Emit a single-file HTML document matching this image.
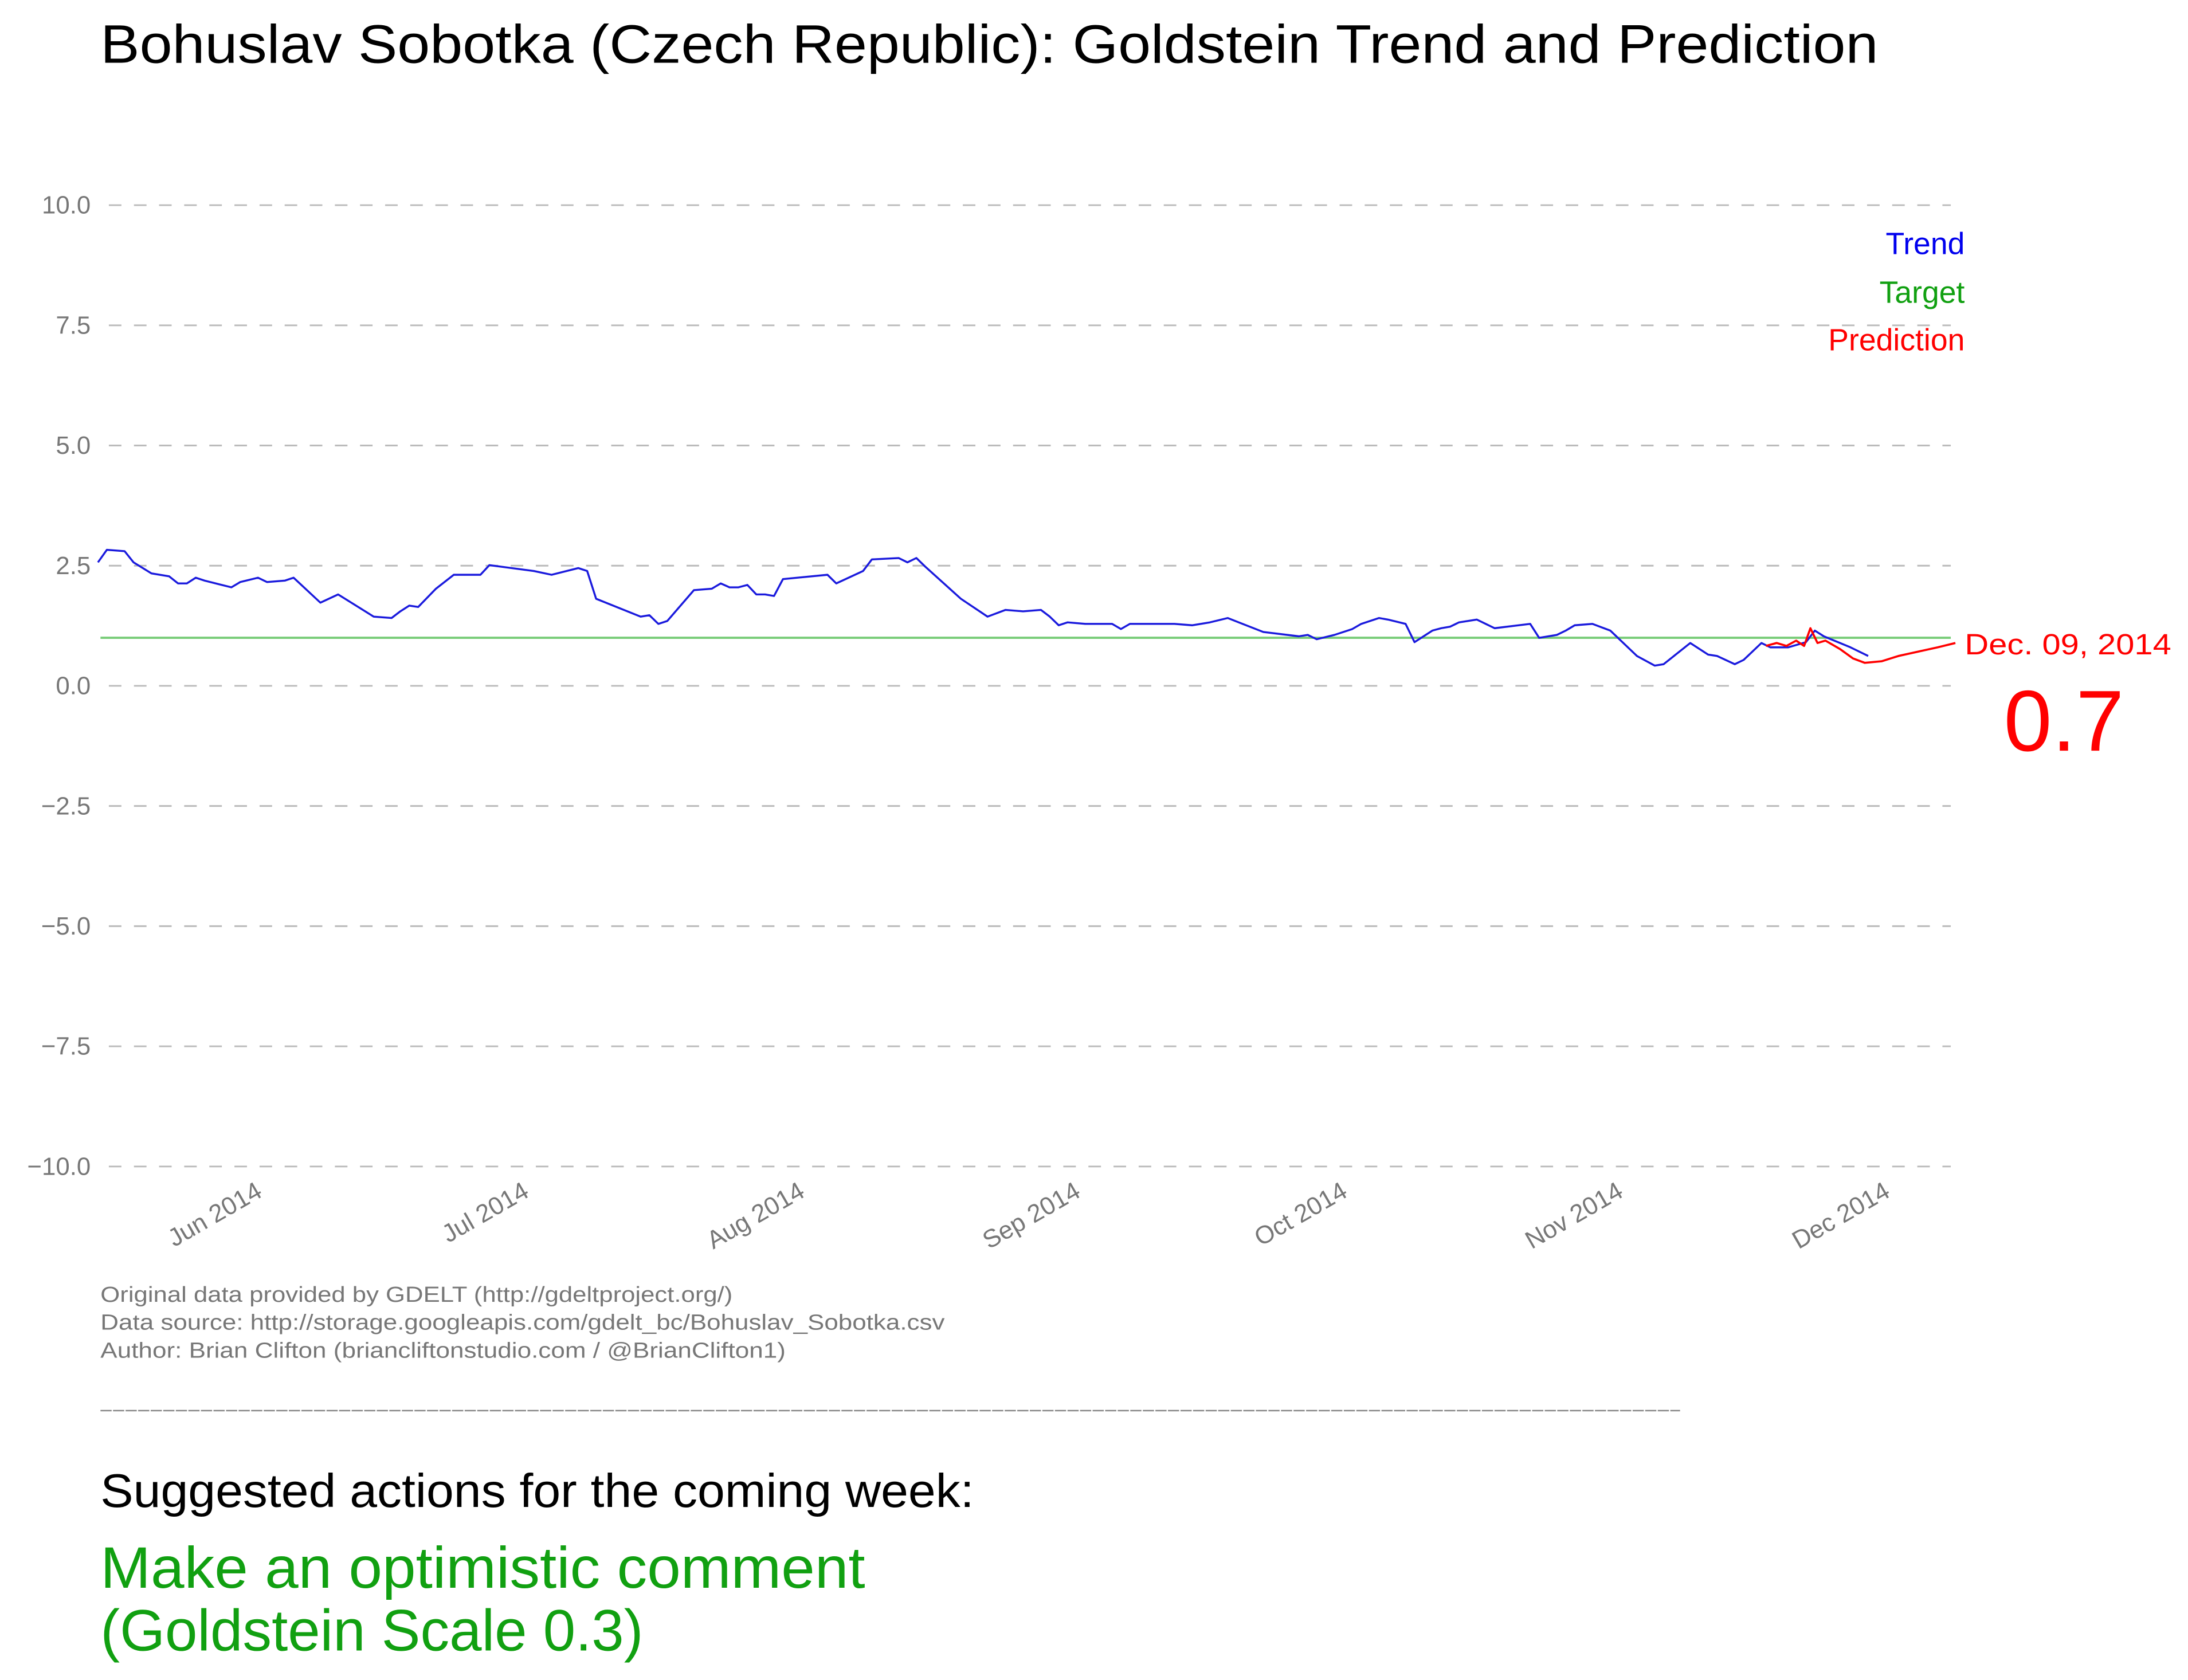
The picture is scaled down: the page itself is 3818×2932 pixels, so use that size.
<!DOCTYPE html>
<html><head><meta charset="utf-8"><style>
html,body{margin:0;padding:0;background:#fff}
svg{display:block}
text{font-family:"Liberation Sans",sans-serif}
</style></head><body>
<svg id="chart" width="3818" height="2932" viewBox="0 0 1568 1204" xmlns="http://www.w3.org/2000/svg">
<text x="72" y="45" font-size="39" fill="#000" textLength="1274" lengthAdjust="spacingAndGlyphs">Bohuslav Sobotka (Czech Republic): Goldstein Trend and Prediction</text>
<g id="grid"></g>
<g id="yticks"></g>
<g id="xticks"></g>
<g id="series"></g>
<text x="1408" y="182" font-size="22" fill="#0000ee" text-anchor="end">Trend</text>
<text x="1408" y="217" font-size="22" fill="#11a011" text-anchor="end">Target</text>
<text x="1408" y="251" font-size="22" fill="#ff0000" text-anchor="end">Prediction</text>
<text x="1408" y="469" font-size="21" fill="#ff0000" textLength="148" lengthAdjust="spacingAndGlyphs">Dec. 09, 2014</text>
<text x="1436" y="538" font-size="62" fill="#ff0000">0.7</text>
<g font-size="15.5" fill="#777">
<text x="72" y="933" textLength="453" lengthAdjust="spacingAndGlyphs">Original data provided by GDELT (http://gdeltproject.org/)</text>
<text x="72" y="953" textLength="605" lengthAdjust="spacingAndGlyphs">Data source: http://storage.googleapis.com/gdelt_bc/Bohuslav_Sobotka.csv</text>
<text x="72" y="973" textLength="491" lengthAdjust="spacingAndGlyphs">Author: Brian Clifton (briancliftonstudio.com / @BrianClifton1)</text>
</g>
<line x1="72" y1="1011" x2="1204" y2="1011" stroke="#888" stroke-width="1" stroke-dasharray="8,1"/>
<text x="72" y="1080" font-size="34" fill="#000" textLength="626" lengthAdjust="spacingAndGlyphs">Suggested actions for the coming week:</text>
<text x="72" y="1138" font-size="42" fill="#11a011" textLength="548" lengthAdjust="spacingAndGlyphs">Make an optimistic comment</text>
<text x="72" y="1183" font-size="42" fill="#11a011" textLength="389" lengthAdjust="spacingAndGlyphs">(Goldstein Scale 0.3)</text>
</svg>
<script>
const yTicks=[10,7.5,5,2.5,0,-2.5,-5,-7.5,-10];
const yTickLabels=["10.0","7.5","5.0","2.5","0.0","\u22122.5","\u22125.0","\u22127.5","\u221210.0"];
const monthDays=[18,48,79,110,140,171,201];
const monthLabels=["Jun 2014","Jul 2014","Aug 2014","Sep 2014","Oct 2014","Nov 2014","Dec 2014"];
const targetValue=1.0;
const trendDays=[0,1,3,4,6,8,9,10,11,12,15,16,18,19,21,22,25,27,31,33,34,35,36,38,40,43,44,49,51,54,55,56,61,62,63,64,67,69,70,71,72,73,74,75,76,77,82,83,86,87,90,91,92,93,97,100,102,104,106,107,108,109,111,114,115,116,121,123,125,127,131,135,136,137,139,141,142,144,145,147,148,150,151,152,153,155,156,157,161,162,164,165,166,168,170,173,175,176,179,181,182,184,185,187,188,190,192,193,194,197,199];
const trendValues=[2.57,2.83,2.80,2.57,2.34,2.28,2.13,2.13,2.25,2.19,2.05,2.16,2.25,2.16,2.19,2.25,1.73,1.90,1.44,1.41,1.55,1.67,1.64,2.02,2.31,2.31,2.51,2.39,2.31,2.45,2.39,1.81,1.44,1.47,1.29,1.35,1.99,2.02,2.13,2.05,2.05,2.10,1.90,1.90,1.87,2.22,2.31,2.13,2.39,2.63,2.66,2.57,2.66,2.48,1.81,1.44,1.58,1.55,1.58,1.44,1.26,1.32,1.29,1.29,1.18,1.29,1.29,1.26,1.32,1.41,1.12,1.03,1.06,0.97,1.06,1.18,1.29,1.41,1.38,1.29,0.91,1.15,1.20,1.23,1.32,1.38,1.29,1.20,1.29,1.00,1.06,1.15,1.26,1.29,1.15,0.62,0.42,0.45,0.89,0.65,0.62,0.45,0.54,0.89,0.80,0.80,0.91,1.15,1.03,0.80,0.62];
const predDays=[187.5,188.7,189.8,190.9,191.8,192.5,193.3,194.2,195.8,197.3,198.6,200.5,202.4,206.8,208.8];
const predValues=[0.83,0.89,0.83,0.94,0.83,1.20,0.89,0.94,0.77,0.57,0.48,0.51,0.62,0.80,0.89];

const NS="http://www.w3.org/2000/svg";
const X0=72,X1=1398;
function xs(d){return 70.2+d*6.375;}
function ys(v){return 491.5-v*34.45;}
function mk(tag,attrs,parent){const e=document.createElementNS(NS,tag);for(const k in attrs)e.setAttribute(k,attrs[k]);parent.appendChild(e);return e;}
const grid=document.getElementById('grid'),yt=document.getElementById('yticks'),xt=document.getElementById('xticks'),se=document.getElementById('series');
yTicks.forEach((v,i)=>{
 const l=mk('line',{x1:78,x2:X1,y1:ys(v),y2:ys(v),stroke:'#bbb','stroke-width':1.2,'stroke-dasharray':'9,9'},grid);
 
 
 const t=mk('text',{x:65,y:ys(v)+6,'font-size':18,fill:'#777','text-anchor':'end'},yt);
 t.textContent=yTickLabels[i];
 
 
});
monthDays.forEach((d,i)=>{
 const x=xs(d)+4,y=857;
 const t=mk('text',{x:x,y:y,'font-size':18,fill:'#777','text-anchor':'end',transform:`rotate(-30 ${x} ${y})`},xt);
 t.textContent=monthLabels[i];
 
 
});
const tl=mk('line',{x1:X0,x2:X1,y1:ys(targetValue),y2:ys(targetValue),stroke:'#77cc77','stroke-width':1.6},se);


function pts(ds,vs){return ds.map((d,i)=>xs(d).toFixed(1)+','+ys(vs[i]).toFixed(1)).join(' ');}
const tr=mk('polyline',{points:pts(trendDays,trendValues),fill:'none',stroke:'#1a1add','stroke-width':1.4,'stroke-linejoin':'round'},se);


const pr=mk('polyline',{points:pts(predDays,predValues),fill:'none',stroke:'#ff0000','stroke-width':1.5,'stroke-linejoin':'round'},se);


</script>
</body></html>
